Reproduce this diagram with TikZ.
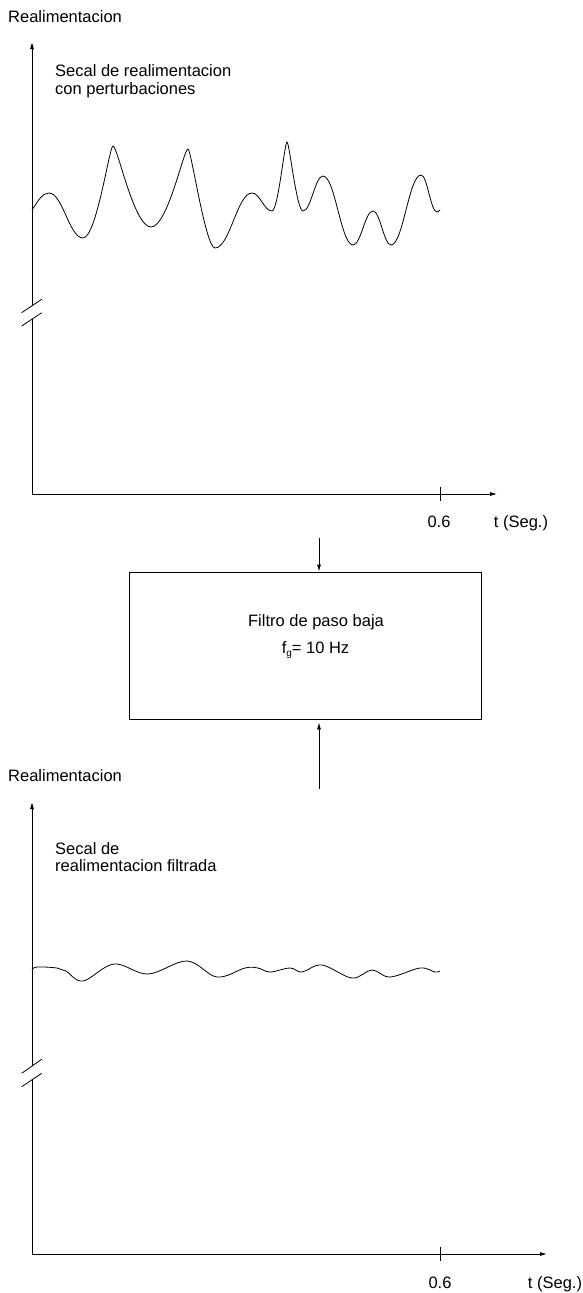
\documentclass[tikz,border=0pt]{standalone}
\usepackage{fontspec}
\setmainfont{Liberation Sans}
\usetikzlibrary{arrows.meta}
\tikzset{
  ax/.style={line width=0.8pt, draw=black},
  axarrow/.style={ax, -{Latex[length=7pt,width=4pt]}},
  sig/.style={line width=0.8pt, draw=black, line join=round},
  lbl/.style={inner sep=0pt, font=\fontsize{16.5}{19}\selectfont},
  filtbox/.style={draw=black, line width=0.8pt, minimum width=352pt, minimum height=147pt, inner sep=0pt},
}
\begin{document}
\begin{tikzpicture}[x=1pt,y=-1pt]
\useasboundingbox (0,0) rectangle (582,1293);

% ---------- top plot ----------
\node[lbl, anchor=base west] (ylab1) at (8,22.5) {Realimentacion};
\node[lbl, anchor=base west] (desc1a) at (55,76) {Secal de realimentacion};
\node[lbl, anchor=base west] (desc1b) at (55,94.5) {con perturbaciones};

\coordinate (o1) at (32,494);
\coordinate (ytip1) at (32,42);
\coordinate (xtip1) at (497,494);
\coordinate (gapA1) at (32,306);
\coordinate (gapB1) at (32,319);
\draw[axarrow] (gapA1) -- (ytip1);
\draw[axarrow] (gapB1) -- (o1) -- (xtip1);
\draw[ax] (21.7,312.7) -- (41.7,299.3);
\draw[ax] (21.7,326) -- (41.7,312.7);
\coordinate (tk1a) at (440.7,486.7);
\coordinate (tk1b) at (440.7,500.5);
\draw[ax] (tk1a) -- (tk1b);
\node[lbl, anchor=base] (v1) at (439,527) {0.6};
\node[lbl, anchor=base] (tl1) at (521,527) {t (Seg.)};

\draw[sig] (32,210)
 .. controls (38,201) and (42.2,193) .. (49,193)
 .. controls (62.6,193) and (69.4,238) .. (83,238)
 .. controls (96.5,238) and (109.4,146) .. (113,146)
 .. controls (117.6,146) and (133.9,227) .. (151,227)
 .. controls (167.7,227) and (183.6,149) .. (188,149)
 .. controls (191.2,149) and (205.5,248) .. (215,248)
 .. controls (229.8,248) and (237.2,193) .. (252,193)
 .. controls (260,193) and (264,211) .. (272,211)
 .. controls (278,211) and (284.7,142) .. (287,142)
 .. controls (289.4,142) and (296.6,211) .. (303,211)
 .. controls (311,211) and (315,176) .. (323,176)
 .. controls (335,176) and (341,245) .. (353,245)
 .. controls (361,245) and (365,211) .. (373,211)
 .. controls (380.2,211) and (383.8,245) .. (391,245)
 .. controls (403,245) and (409,175) .. (421,175)
 .. controls (427.4,175) and (430.6,212) .. (437,212)
 .. controls (438.5,212) and (439,210.5) .. (440,210);

% ---------- filter box ----------
\node[filtbox] (filt) at (305,645.5) {};
\node[lbl, anchor=base] (ft1) at (316,626) {Filtro de paso baja};
\node[lbl, anchor=base] (ft2) at (315.5,653) {f\raisebox{-0.35ex}{\fontsize{10}{12}\selectfont g}= 10 Hz};
\coordinate (in1) at (319,538);
\coordinate (in2) at (319,789);
\draw[axarrow] (in1) -- (in1 |- filt.north);
\draw[axarrow] (in2) -- ([yshift=-3pt]in2 |- filt.south);

% ---------- bottom plot ----------
\node[lbl, anchor=base west] (ylab2) at (8,781) {Realimentacion};
\node[lbl, anchor=base west] (desc2a) at (55,854) {Secal de};
\node[lbl, anchor=base west] (desc2b) at (55,871) {realimentacion filtrada};

\coordinate (o2) at (32,1254);
\coordinate (ytip2) at (32,802);
\coordinate (xtip2) at (547,1254);
\coordinate (gapA2) at (32,1066);
\coordinate (gapB2) at (32,1080);
\draw[axarrow] (gapA2) -- (ytip2);
\draw[axarrow] (gapB2) -- (o2) -- (xtip2);
\draw[ax] (21.7,1073.3) -- (41.7,1059.3);
\draw[ax] (21.7,1086.7) -- (41.7,1073.3);
\coordinate (tk2a) at (440.7,1246.7);
\coordinate (tk2b) at (440.7,1260.5);
\draw[ax] (tk2a) -- (tk2b);
\node[lbl, anchor=base] (v2) at (440,1288) {0.6};
\node[lbl, anchor=base] (tl2) at (555,1288) {t (Seg.)};

\draw[sig] plot[smooth, tension=0.6] coordinates {
 (32,970) (37,967) (57,968) (66,971) (83,981) (114,964) (148,974)
 (187,961) (217,977) (245,968) (258,968) (270,972) (290,968)
 (302,972) (322,965) (352,978) (372,970) (390,977) (420,968)
 (435,972) (440,971)};
\end{tikzpicture}
\end{document}
